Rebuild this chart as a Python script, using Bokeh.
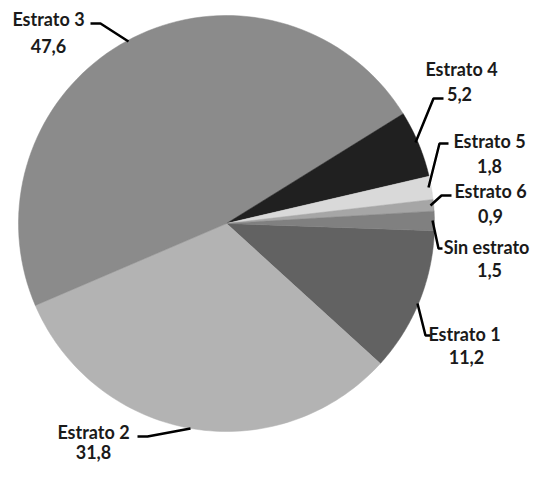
import numpy as np
from bokeh.plotting import figure
from bokeh.models import Range1d, ColumnDataSource
from bokeh.core.properties import value
from bokeh.embed import file_html
from bokeh.resources import INLINE

# ---- data ----
categories = ["Estrato 1", "Estrato 2", "Estrato 3", "Estrato 4",
              "Estrato 5", "Estrato 6", "Sin estrato"]
shares = [11.2, 31.8, 47.6, 5.2, 1.8, 0.9, 1.5]

# ---- styles / layout ----
colors = ["#626262", "#b3b3b3", "#8b8b8b", "#202020",
          "#d9d9d9", "#a6a6a6", "#808080"]
W, H = 533, 464
cx, cy, R = 226, 223, 208
start_deg = 2.0  # clockwise from east (screen, y down)
TEXT_DY = -7     # compensation for rendered baseline

# label anchor positions (px): name centre x, name baseline, value centre x, value baseline
label_pos = [
    (464, 340, 466, 363),
    (93, 438, 93, 458),
    (48, 25, 48, 52),
    (461, 75, 459, 100),
    (489, 147, 489, 172),
    (490, 197, 490, 222),
    (486, 253, 489, 276),
]
leaders = [
    [(417, 303), (425, 335), (430, 335)],
    [(137, 436), (147, 436), (190, 428)],
    [(90, 23), (100, 23), (128, 41)],
    [(443, 98), (433, 98), (415, 142)],
    [(448, 143), (439, 143), (428, 187)],
    [(430, 205), (441, 195), (451, 195)],
    [(432, 220), (438, 248), (442, 248)],
]

p = figure(width=W, height=H, output_backend="svg", toolbar_location=None,
           x_range=Range1d(0, W), y_range=Range1d(H, 0),
           min_border=0, min_border_left=0, min_border_right=0,
           min_border_top=0, min_border_bottom=0)
p.axis.visible = False
p.grid.visible = False
p.outline_line_color = None
p.background_fill_color = "white"

# slices from cumulative shares
total = sum(shares)
cum = np.concatenate([[0.0], np.cumsum(shares)]) / total * 360.0 + start_deg
xs, ys = [], []
for i in range(len(shares)):
    t = np.radians(np.linspace(cum[i], cum[i + 1], 80))
    xs.append([cx] + list(cx + R * np.cos(t)) + [cx])
    ys.append([cy] + list(cy + R * np.sin(t)) + [cy])
p.patches(xs, ys, fill_color=colors, line_color=colors, line_width=0.5)

# leader lines
p.multi_line([[q[0] for q in L] for L in leaders],
             [[q[1] for q in L] for L in leaders],
             line_color="black", line_width=2.5)

src = ColumnDataSource(dict(
    nx=[a[0] for a in label_pos], ny=[a[1] + TEXT_DY for a in label_pos],
    vx=[a[2] for a in label_pos], vy=[a[3] + TEXT_DY for a in label_pos],
    name=categories, val=[f"{v:.1f}".replace(".", ",") for v in shares]))
for xk, yk, tk in (("nx", "ny", "name"), ("vx", "vy", "val")):
    p.text(x=xk, y=yk, text=tk, source=src,
           text_font=value("Lato"), text_font_size="18px",
           text_font_style="bold", text_color="#1a1a1a",
           text_align="center", text_baseline="alphabetic")

open("out.html", "w").write(file_html(p, INLINE))
